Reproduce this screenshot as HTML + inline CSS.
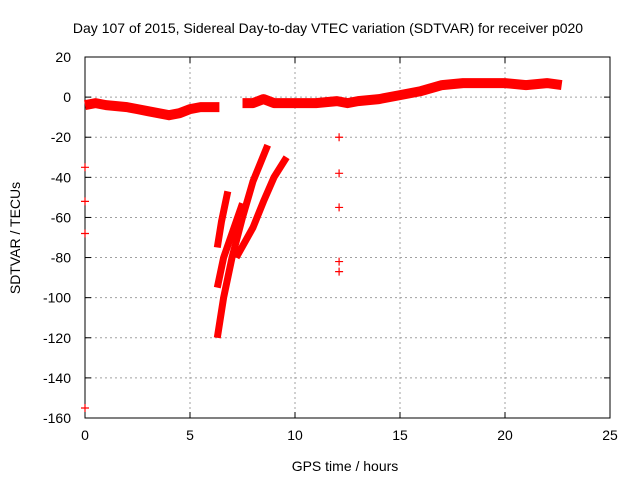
<!DOCTYPE html>
<html><head><meta charset="utf-8"><style>
body{margin:0;background:#fff}
svg text{font-family:"Liberation Sans",sans-serif;font-size:14px;fill:#000}
</style></head><body>
<svg width="640" height="480">
<g id="grid"></g>
<g id="axes"></g>
<g id="marks"></g>
<text x="328" y="33" text-anchor="middle">Day 107 of 2015, Sidereal Day-to-day VTEC variation (SDTVAR) for receiver p020</text>
<text x="345" y="471" text-anchor="middle">GPS time / hours</text>
<text transform="translate(20,238) rotate(-90)" text-anchor="middle">SDTVAR / TECUs</text>
</svg>
<script>
const xTicks=[0,5,10,15,20,25];
const yTicks=[20,0,-20,-40,-60,-80,-100,-120,-140,-160];
const band1=[[0,-4],[0.5,-3],[1,-4],[2,-5],[2.5,-6],[3,-7],[3.5,-8],[4,-9],[4.5,-8],[5,-6],[5.5,-5],[6,-5],[6.4,-5]];
const band2=[[7.5,-3],[8,-3],[8.5,-1],[9,-3],[10,-3],[11,-3],[12,-2],[12.5,-3],[13,-2],[14,-1],[15,1],[16,3],[17,6],[18,7],[19,7],[20,7],[21,6],[22,7],[22.7,6]];
const arcA=[[6.3,-120],[6.6,-100],[7,-80],[7.5,-60],[8,-42],[8.7,-24]];
const arcB=[[6.3,-75],[6.5,-62],[6.8,-47]];
const arcB2=[[6.3,-95],[6.6,-80],[7.0,-68],[7.5,-53]];
const arcC=[[7.2,-80],[8,-65],[8.5,-52],[9,-40],[9.6,-30]];
const isoX=[12.1,12.1,12.1,12.1,12.1,0,0,0,0];
const isoY=[-20,-38,-55,-82,-87,-155,-35,-52,-68];
const X0=85,X1=610,Y0=418,Y1=57;
const sx=v=>X0+(v-0)/25*(X1-X0);
const sy=v=>Y0-(v+160)/180*(Y0-Y1);
const NS="http://www.w3.org/2000/svg";
function mk(t,a,p){const e=document.createElementNS(NS,t);for(const k in a)e.setAttribute(k,a[k]);p.appendChild(e);return e;}
const grid=document.getElementById('grid'),axes=document.getElementById('axes'),marks=document.getElementById('marks');
xTicks.forEach(t=>{
 if(t>0&&t<25){const l=mk('line',{x1:sx(t),x2:sx(t),y1:Y1,y2:Y0,stroke:'#a0a0a0','stroke-dasharray':'2,3'},grid);
 
 }
 const tx=mk('text',{x:sx(t),y:Y0+22,'text-anchor':'middle'},axes);tx.textContent=t;
 
 
 mk('line',{x1:sx(t),x2:sx(t),y1:Y0,y2:Y0-6,stroke:'#000'},axes);
 mk('line',{x1:sx(t),x2:sx(t),y1:Y1,y2:Y1+6,stroke:'#000'},axes);
});
yTicks.forEach(t=>{
 if(t<20&&t>-160){const l=mk('line',{x1:X0,x2:X1,y1:sy(t),y2:sy(t),stroke:'#a0a0a0','stroke-dasharray':'2,3'},grid);
 
 }
 const tx=mk('text',{x:X0-14,y:sy(t)+5,'text-anchor':'end'},axes);tx.textContent=t;
 
 
 mk('line',{x1:X0,x2:X0+6,y1:sy(t),y2:sy(t),stroke:'#000'},axes);
 mk('line',{x1:X1,x2:X1-6,y1:sy(t),y2:sy(t),stroke:'#000'},axes);
});
mk('rect',{x:X0,y:Y1,width:X1-X0,height:Y0-Y1,fill:'none',stroke:'#000'},axes);
function band(pts,w,name){
 const d=pts.map((p,i)=>(i?'L':'M')+sx(p[0]).toFixed(1)+','+sy(p[1]).toFixed(1)).join('');
 const p=mk('path',{d:d,fill:'none',stroke:'#f00','stroke-width':w,'stroke-linejoin':'round','stroke-linecap':'butt'},marks);
 
 
}
band(band1,10,'series-band-1');band(band2,10,'series-band-2');
band(arcA,7,'series-arc-a');band(arcB,7,'series-arc-b');band(arcB2,7,'series-arc-b2');band(arcC,7,'series-arc-c');
isoX.forEach((x,i)=>{
 const cx=sx(x),cy=sy(isoY[i]);
 const g=mk('path',{d:`M${cx-4},${cy}H${cx+4}M${cx},${cy-4}V${cy+4}`,stroke:'#f00','stroke-width':1.2},marks);
 
 
});
</script>
</body></html>
